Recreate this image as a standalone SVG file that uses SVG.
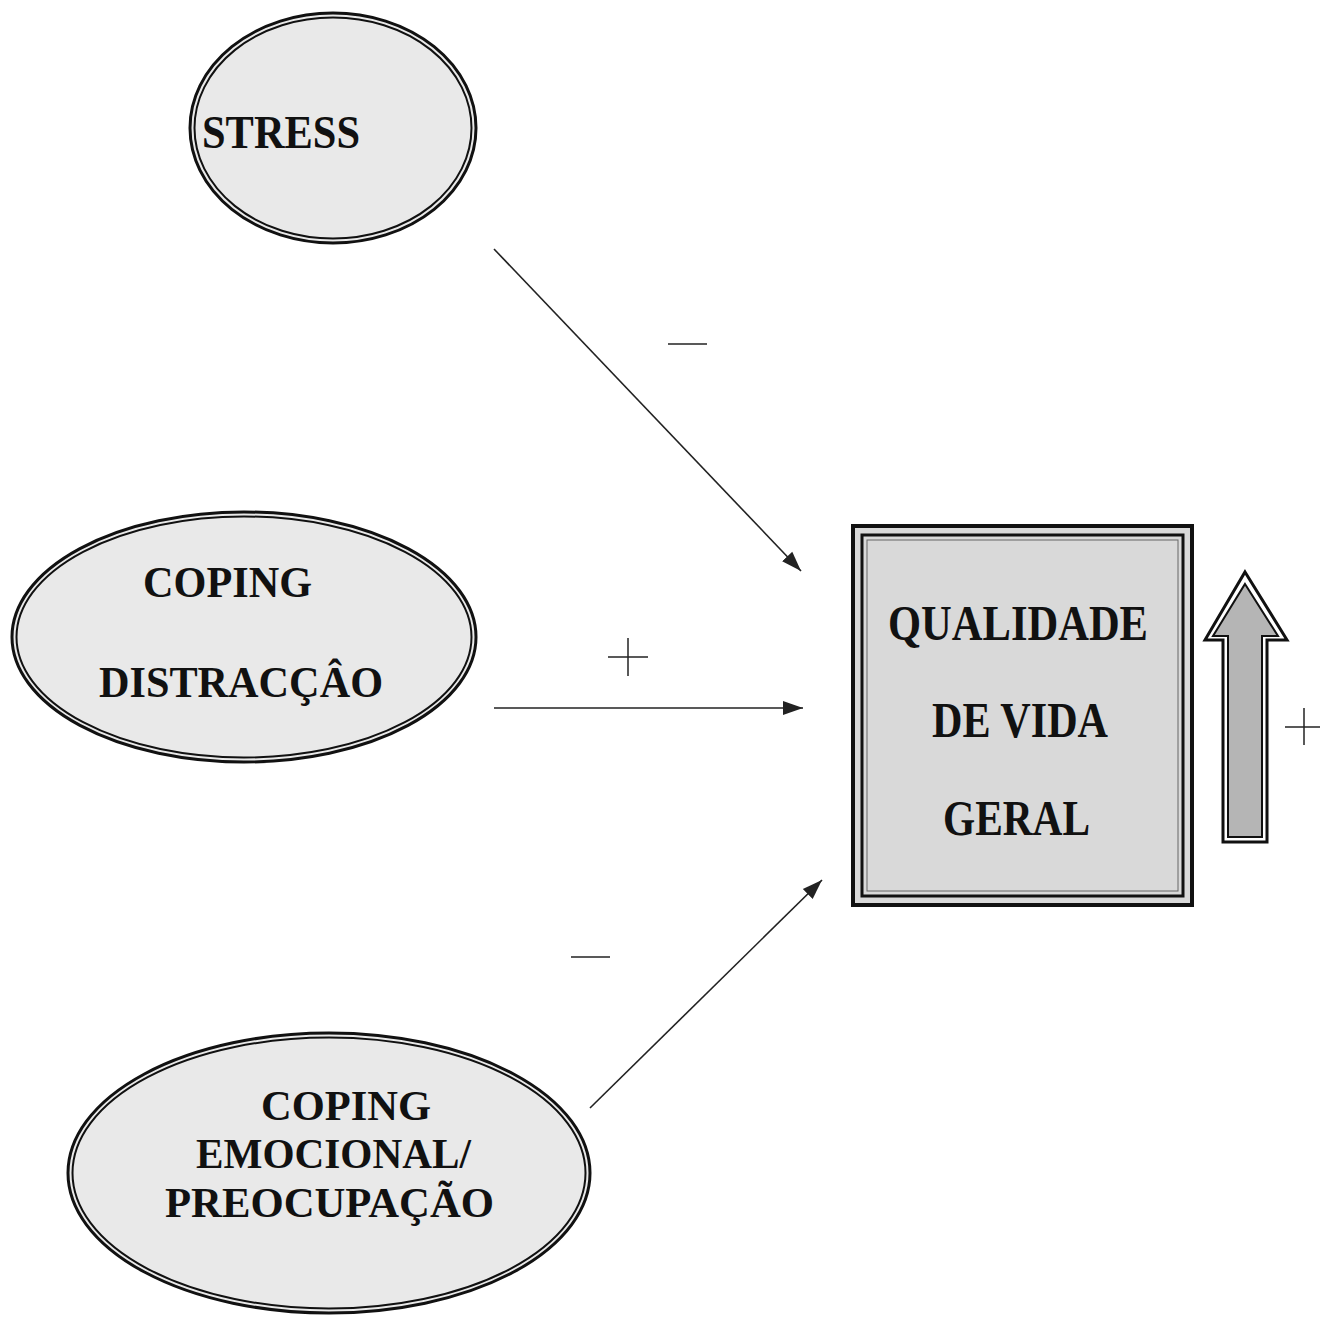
<svg xmlns="http://www.w3.org/2000/svg" width="1321" height="1317" viewBox="0 0 1321 1317">
<style>
.fill{fill:#e9e9e9}
.o{fill:none;stroke:#111;stroke-width:3}
.i{fill:none;stroke:#111;stroke-width:2}
.t{font-family:"Liberation Serif","Times New Roman",serif;font-weight:bold;fill:#111}
.c{stroke:#222;stroke-width:1.6;fill:none;marker-end:url(#ah)}
.s{stroke:#222;stroke-width:1.5}
</style>
<defs>
<marker id="ah" viewBox="0 0 10 10" refX="10" refY="5" markerWidth="20" markerHeight="20" markerUnits="userSpaceOnUse" orient="auto">
<path d="M0,1.5 L10,5 L0,8.5 Z" fill="#222"/>
</marker>
</defs>
<rect width="1321" height="1317" fill="#fff"/>
<g id="stress">
<ellipse class="fill" cx="333" cy="128" rx="143" ry="115"/>
<ellipse class="o" cx="333" cy="128" rx="143" ry="115"/>
<ellipse class="i" cx="333" cy="128" rx="138.5" ry="110.5"/>
<text class="t" x="202" y="148" font-size="46" textLength="158" lengthAdjust="spacingAndGlyphs">STRESS</text>
</g>
<g id="coping-distraccao">
<ellipse class="fill" cx="244" cy="637" rx="232" ry="125"/>
<ellipse class="o" cx="244" cy="637" rx="232" ry="125"/>
<ellipse class="i" cx="244" cy="637" rx="227.5" ry="120.5"/>
<text class="t" x="143" y="597" font-size="44" textLength="169" lengthAdjust="spacingAndGlyphs">COPING</text>
<text class="t" x="99" y="697" font-size="44" textLength="284" lengthAdjust="spacingAndGlyphs">DISTRACÇÂO</text>
</g>
<g id="coping-emocional">
<ellipse class="fill" cx="329" cy="1173" rx="261" ry="140"/>
<ellipse class="o" cx="329" cy="1173" rx="261" ry="140"/>
<ellipse class="i" cx="329" cy="1173" rx="256.5" ry="135.5"/>
<text class="t" x="261" y="1120" font-size="43" textLength="170" lengthAdjust="spacingAndGlyphs">COPING</text>
<text class="t" x="196" y="1168" font-size="43" textLength="275" lengthAdjust="spacingAndGlyphs">EMOCIONAL/</text>
<text class="t" x="165" y="1217" font-size="43" textLength="329" lengthAdjust="spacingAndGlyphs">PREOCUPAÇÃO</text>
</g>
<g id="qualidade">
<rect x="853" y="526" width="339" height="379" fill="#d9d9d9" stroke="#111" stroke-width="4"/>
<rect x="862" y="535" width="321" height="361" fill="none" stroke="#111" stroke-width="3"/>
<rect x="867" y="540" width="311" height="351" fill="none" stroke="#666" stroke-width="1"/>
<text class="t" x="888" y="640" font-size="50" textLength="260" lengthAdjust="spacingAndGlyphs">QUALIDADE</text>
<text class="t" x="932" y="737" font-size="50" textLength="176" lengthAdjust="spacingAndGlyphs">DE VIDA</text>
<text class="t" x="943" y="835" font-size="50" textLength="147" lengthAdjust="spacingAndGlyphs">GERAL</text>
</g>
<g id="up-arrow">
<path d="M1245,572 L1287,640 L1267,640 L1267,842 L1223,842 L1223,640 L1205,640 Z" fill="#fff" stroke="#111" stroke-width="3" stroke-linejoin="miter"/>
<path d="M1245,584 L1278,636 L1262,636 L1262,837 L1228,837 L1228,636 L1213,636 Z" fill="#b5b5b5" stroke="#111" stroke-width="2"/>
</g>
<g id="connectors">
<line class="c" x1="494" y1="249" x2="801" y2="571"/>
<line class="c" x1="494" y1="708" x2="803" y2="708"/>
<line class="c" x1="590" y1="1108" x2="822" y2="880"/>
</g>
<g id="labels">
<line class="s" x1="668" y1="344" x2="707" y2="344"/>
<line class="s" x1="608" y1="657" x2="648" y2="657"/>
<line class="s" x1="628" y1="638" x2="628" y2="676"/>
<line class="s" x1="571" y1="957" x2="610" y2="957"/>
<line class="s" x1="1285" y1="727" x2="1320" y2="727"/>
<line class="s" x1="1304" y1="708" x2="1304" y2="745"/>
</g>
</svg>
